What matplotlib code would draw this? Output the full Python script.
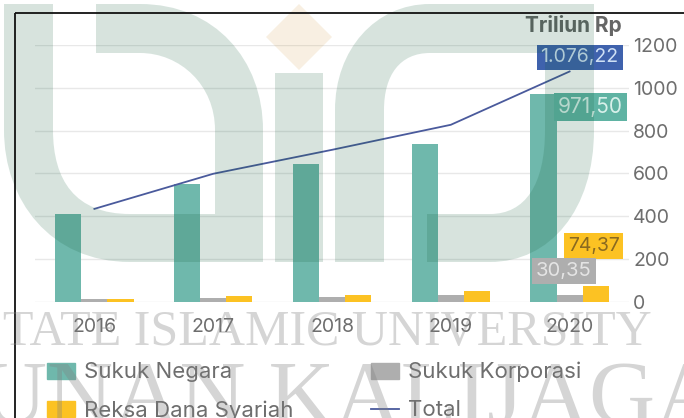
import numpy as np
import matplotlib
matplotlib.use('Agg')
import matplotlib.pyplot as plt
from matplotlib.path import Path
from matplotlib.patches import PathPatch, Patch
from matplotlib.lines import Line2D

plt.rcParams['font.family'] = ['Inter', 'DejaVu Sans']

years = ['2016', '2017', '2018', '2019', '2020']
sukuk_negara = [411, 551, 645, 738, 971.50]
sukuk_korporasi = [12, 15, 22, 30, 30.35]
reksa_dana = [14, 25, 33, 50, 74.37]
total = [434, 598, 710, 827, 1076.22]
y_ticks = [0, 200, 400, 600, 800, 1000, 1200]

TEAL = '#6fb8ac'
GRAY = '#aeaeae'
YELLOW = '#fcc223'
BLUE = '#3f62ad'
LINE = '#4a5a9c'
TEXT = '#6e6e6e'

W, H = 684, 418
fig = plt.figure(figsize=(W / 100, H / 100), dpi=100, facecolor='white')
ax = fig.add_axes([35 / W, 1 - 301.7 / H, 594 / W, 256.7 / H])
for s in ax.spines.values():
    s.set_visible(False)

x = np.arange(len(years))
bw = 0.22
ax.bar(x - bw, sukuk_negara, bw, color=TEAL, zorder=2)
ax.bar(x, sukuk_korporasi, bw, color=GRAY, zorder=2)
ax.bar(x + bw, reksa_dana, bw, color=YELLOW, zorder=2)
ax.plot(x, total, color=LINE, lw=1.3, zorder=3)

ax.set_xlim(-0.5, 4.5)
ax.set_ylim(0, 1200)
ax.set_xticks(x, years)
ax.yaxis.tick_right()
ax.set_yticks(y_ticks)
ax.grid(axis='y', color='#e8e8e8', lw=1, zorder=0)
ax.tick_params(axis='both', length=0, labelsize=14, labelcolor=TEXT)
ax.tick_params(axis='y', pad=3)
ax.tick_params(axis='x', pad=11.5)

# value labels, only on the last year
def value_label(txt, xv, yv, dx, dy, bg, fg, size=14.5):
    ax.annotate(txt, (xv, yv), xytext=(dx, dy), textcoords='offset pixels',
                ha='center', va='center', fontsize=size, color=fg, zorder=5,
                bbox=dict(boxstyle='square,pad=0.2', fc=bg, ec='none'))

value_label('1.076,22', x[4], total[4], 10, 14, BLUE, '#cfe0f5', 14)
value_label('971,50', x[4] - bw, sukuk_negara[4], 47, -13, '#5fb3a3', '#d8f0ea', 15)
value_label('74,37', x[4] + bw, reksa_dana[4], -2, 40, YELLOW, '#8a6a20', 14)
value_label('30,35', x[4], sukuk_korporasi[4], -6, 24, GRAY, '#e4e4e4', 14.5)

fig.text(622 / W, 1 - 25 / H, 'Triliun Rp', ha='right', va='center',
         fontsize=15, fontweight='bold', color='#666666')

handles = [Patch(color=TEAL, label='Sukuk Negara'),
           Patch(color=YELLOW, label='Reksa Dana Syariah'),
           Patch(color=GRAY, label='Sukuk Korporasi'),
           Line2D([], [], color=LINE, lw=1.3, label='Total')]
fig.legend(handles=handles, ncol=2, frameon=False, fontsize=16, labelcolor=TEXT,
           loc='upper left', bbox_to_anchor=(47 / W, 1 - 362 / H), borderaxespad=0,
           borderpad=0, handlelength=1.25, handleheight=0.75, handletextpad=0.4,
           labelspacing=0.81, columnspacing=3.5)

# watermark and frame go over everything, in pixel coordinates
over = fig.add_axes([0, 0, 1, 1], zorder=10)
over.set_xlim(0, W)
over.set_ylim(H, 0)
over.axis('off')
over.patch.set_alpha(0)

M, L, C, Z = Path.MOVETO, Path.LINETO, Path.CURVE4, Path.CLOSEPOLY
left_verts = [(4, 4), (53, 4), (53, 130), (53, 180), (75, 214), (130, 214), (215, 214), (215, 130),
              (215, 85), (180, 53), (140, 53), (96, 53), (96, 4), (140, 4),
              (215, 4), (263, 60), (263, 130), (263, 262), (130, 262),
              (50, 262), (4, 200), (4, 130), (4, 4)]
left_codes = [M, L, L, C, C, C, L, L, C, C, C, L, L, L, C, C, C, L, L, C, C, C, Z]
right_verts = [(594, 4), (594, 130), (594, 210), (550, 262), (490, 262), (427, 262), (427, 214), (490, 214),
               (525, 214), (545, 185), (545, 130), (545, 53), (430, 53),
               (400, 53), (384, 75), (384, 110), (384, 262), (335, 262), (335, 110),
               (335, 50), (375, 4), (430, 4), (594, 4)]
right_codes = [M, L, C, C, C, L, L, L, C, C, C, L, L, C, C, C, L, L, L, C, C, C, Z]
i_verts = [(275, 73), (323, 73), (323, 262), (275, 262), (275, 73)]
i_codes = [M, L, L, L, Z]
for v, c in [(left_verts, left_codes), (right_verts, right_codes), (i_verts, i_codes)]:
    over.add_patch(PathPatch(Path(v, c), fc='#125e3b', ec='none', alpha=0.17))
over.fill([299, 332, 299, 266], [4, 37, 70, 37], fc='#c98a20', ec='none', alpha=0.13)

over.text(-25, 345, 'STATE ISLAMIC UNIVERSITY', family='Liberation Serif', fontsize=36,
          color='#808080', alpha=0.33, ha='left', va='baseline')
over.text(-70, 424, 'SUNAN KALIJAGA', family='Liberation Serif', fontsize=66,
          color='#808080', alpha=0.33, ha='left', va='baseline', clip_on=True)

over.plot([15, 15], [13, H], color='#111111', lw=1.3, solid_capstyle='butt')
over.plot([15, W], [13, 13], color='#111111', lw=1.3, solid_capstyle='butt')

fig.savefig('out.png', dpi=100)
